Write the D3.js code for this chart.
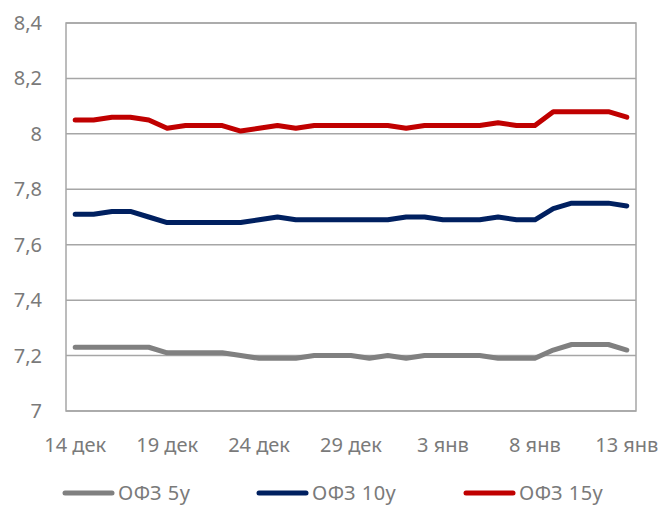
<!DOCTYPE html>
<html>
<head>
<meta charset="utf-8">
<script src="https://cdn.jsdelivr.net/npm/d3@7"></script>
<style>
  body { margin: 0; background: #fff; }
  text { font-family: "Noto Sans", "Open Sans", sans-serif; fill: #7a7a7a; }
</style>
</head>
<body>
<svg id="chart" width="663" height="507"></svg>
<script>
// daily categories, 14 дек .. 13 янв
var dates = ["14 дек","15 дек","16 дек","17 дек","18 дек","19 дек","20 дек","21 дек","22 дек","23 дек",
             "24 дек","25 дек","26 дек","27 дек","28 дек","29 дек","30 дек","31 дек","1 янв","2 янв",
             "3 янв","4 янв","5 янв","6 янв","7 янв","8 янв","9 янв","10 янв","11 янв","12 янв","13 янв"];
var tickLabels = ["14 дек","19 дек","24 дек","29 дек","3 янв","8 янв","13 янв"];
var yTicks = [7, 7.2, 7.4, 7.6, 7.8, 8, 8.2, 8.4];

var ofz5 = [7.23,7.23,7.23,7.23,7.23,7.21,7.21,7.21,7.21,7.20,
            7.19,7.19,7.19,7.20,7.20,7.20,7.19,7.20,7.19,7.20,
            7.20,7.20,7.20,7.19,7.19,7.19,7.22,7.24,7.24,7.24,7.22];
var ofz10 = [7.71,7.71,7.72,7.72,7.70,7.68,7.68,7.68,7.68,7.68,
             7.69,7.70,7.69,7.69,7.69,7.69,7.69,7.69,7.70,7.70,
             7.69,7.69,7.69,7.70,7.69,7.69,7.73,7.75,7.75,7.75,7.74];
var ofz15 = [8.05,8.05,8.06,8.06,8.05,8.02,8.03,8.03,8.03,8.01,
             8.02,8.03,8.02,8.03,8.03,8.03,8.03,8.03,8.02,8.03,
             8.03,8.03,8.03,8.04,8.03,8.03,8.08,8.08,8.08,8.08,8.06];

var seriesNames = ["ОФЗ 5y", "ОФЗ 10y", "ОФЗ 15y"];
var seriesColors = ["#808080", "#002060", "#c00000"];
var seriesData = [ofz5, ofz10, ofz15];

var svg = d3.select("#chart");
var plotLeft = 66, plotRight = 636, plotTop = 23, plotBottom = 411;

var x = d3.scalePoint().domain(dates).range([plotLeft, plotRight]).padding(0.5);
var y = d3.scaleLinear().domain([7, 8.4]).range([plotBottom, plotTop]);

// gridlines
svg.append("g").selectAll("line")
    .data(yTicks)
  .enter().append("line")
    .attr("x1", plotLeft).attr("x2", plotRight)
    .attr("y1", function(d) { return y(d); })
    .attr("y2", function(d) { return y(d); })
    .attr("stroke", "#a6a6a6")
    .attr("stroke-width", 1.5);

// plot border
svg.append("rect")
    .attr("x", plotLeft).attr("y", plotTop)
    .attr("width", plotRight - plotLeft).attr("height", plotBottom - plotTop)
    .attr("fill", "none")
    .attr("stroke", "#a6a6a6")
    .attr("stroke-width", 1.5);

// y labels
var fmt = function(d) { return d3.format(".1~f")(d).replace(".", ","); };
svg.append("g").selectAll("text")
    .data(yTicks)
  .enter().append("text")
    .attr("x", 42)
    .attr("y", function(d) { return y(d) + 7; })
    .attr("text-anchor", "end")
    .attr("font-size", "20px")
    .text(fmt);

// x labels
svg.append("g").selectAll("text")
    .data(tickLabels)
  .enter().append("text")
    .attr("x", function(d) { return x(d); })
    .attr("y", 452)
    .attr("text-anchor", "middle")
    .attr("font-size", "20px")
    .text(function(d) { return d; });

// lines
var line = d3.line()
    .x(function(d, i) { return x(dates[i]); })
    .y(function(d) { return y(d); });

svg.append("g").selectAll("path")
    .data(seriesData)
  .enter().append("path")
    .attr("d", line)
    .attr("fill", "none")
    .attr("stroke", function(d, i) { return seriesColors[i]; })
    .attr("stroke-width", 5)
    .attr("stroke-linejoin", "round")
    .attr("stroke-linecap", "round");

// legend
var legendX = [65, 259, 466];
var leg = svg.append("g").selectAll("g")
    .data(seriesNames)
  .enter().append("g")
    .attr("transform", function(d, i) { return "translate(" + legendX[i] + ",493)"; });
leg.append("line")
    .attr("x1", 0).attr("x2", 47)
    .attr("stroke", function(d, i) { return seriesColors[i]; })
    .attr("stroke-width", 5)
    .attr("stroke-linecap", "round");
leg.append("text")
    .attr("x", 53)
    .attr("y", 7)
    .attr("font-size", "20px")
    .attr("letter-spacing", "0.5px")
    .text(function(d) { return d; });
</script>
</body>
</html>
